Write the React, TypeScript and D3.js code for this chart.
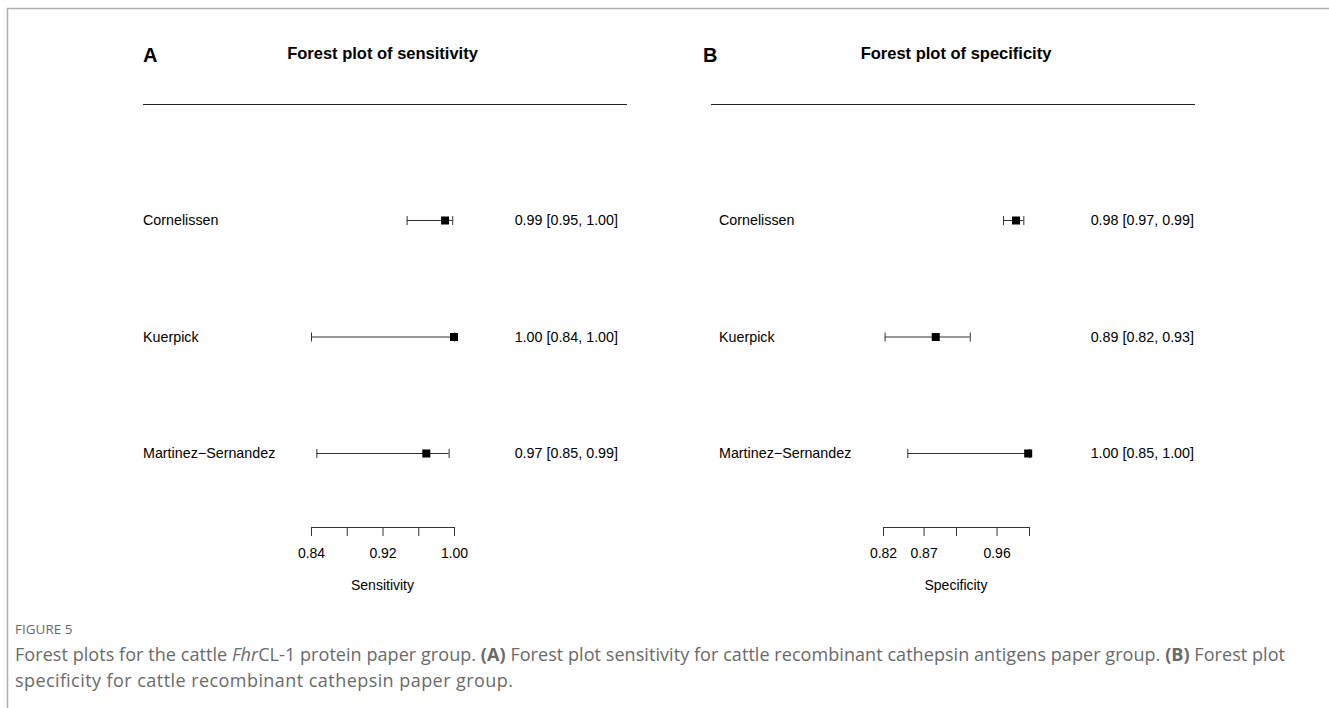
import React, { useEffect, useRef } from "react";
import * as d3 from "d3";

// studies (same for both panels)
const studies = ["Cornelissen", "Kuerpick", "Martinez\u2212Sernandez"];

// panel A – sensitivity
const sensEst = [0.99, 1.0, 0.969];
const sensLo = [0.947, 0.84, 0.846];
const sensHi = [0.998, 1.0, 0.994];
const sensText = ["0.99 [0.95, 1.00]", "1.00 [0.84, 1.00]", "0.97 [0.85, 0.99]"];
const sensTicks = [0.84, 0.88, 0.92, 0.96, 1.0];
const sensTickLabels = ["0.84", "", "0.92", "", "1.00"];

// panel B – specificity
const specEst = [0.984, 0.885, 0.999];
const specLo = [0.968, 0.822, 0.85];
const specHi = [0.993, 0.927, 1.0];
const specText = ["0.98 [0.97, 0.99]", "0.89 [0.82, 0.93]", "1.00 [0.85, 1.00]"];
const specTicks = [0.82, 0.87, 0.91, 0.96, 1.0];
const specTickLabels = ["0.82", "0.87", "", "0.96", ""];

const FONT = "'Liberation Sans', Arial, sans-serif";
const CAP_FONT = "'Open Sans', 'Noto Sans', sans-serif";

const panels = [
  {
    letter: "A",
    title: "Forest plot of sensitivity",
    xlab: "Sensitivity",
    est: sensEst, lo: sensLo, hi: sensHi, text: sensText,
    ticks: sensTicks, tickLabels: sensTickLabels,
    left: 143, labelX: 143, right: 627, axisRange: [311, 454], textRight: 618,
  },
  {
    letter: "B",
    title: "Forest plot of specificity",
    xlab: "Specificity",
    est: specEst, lo: specLo, hi: specHi, text: specText,
    ticks: specTicks, tickLabels: specTickLabels,
    left: 703, labelX: 719, right: 1195, lineLeft: 711, axisRange: [883, 1029], textRight: 1194,
  },
];

const App = () => {
  const svgRef = useRef(null);

  useEffect(() => {
    const svg = d3.select(svgRef.current);
    svg.selectAll("*").remove();

    // figure frame
    svg.append("line").attr("x1", 7).attr("x2", 1329).attr("y1", 8.5).attr("y2", 8.5)
      .attr("stroke", "#b0b0b0").attr("stroke-width", 1.5);
    svg.append("line").attr("x1", 7.5).attr("x2", 7.5).attr("y1", 8).attr("y2", 708)
      .attr("stroke", "#b0b0b0").attr("stroke-width", 1.5);

    const yScale = d3.scalePoint().domain(studies).range([220, 453]);

    panels.forEach((p) => {
      const x = d3.scaleLinear()
        .domain([p.ticks[0], p.ticks[p.ticks.length - 1]])
        .range(p.axisRange);
      const axisMid = (p.axisRange[0] + p.axisRange[1]) / 2;
      const g = svg.append("g").style("font-family", FONT);

      g.append("text").attr("x", p.left).attr("y", 62)
        .style("font-size", "20px").style("font-weight", "bold").text(p.letter);
      g.append("text").attr("x", axisMid).attr("y", 59).attr("text-anchor", "middle")
        .style("font-size", "16.5px").style("font-weight", "bold").text(p.title);

      g.append("line").attr("x1", p.lineLeft ?? p.left).attr("x2", p.right)
        .attr("y1", 104.5).attr("y2", 104.5)
        .attr("stroke", "#222").attr("stroke-width", 1);

      studies.forEach((s, i) => {
        const y = yScale(s);
        g.append("text").attr("x", p.labelX).attr("y", y + 5)
          .style("font-size", "14.3px").text(s);
        g.append("text").attr("x", p.textRight).attr("y", y + 5).attr("text-anchor", "end")
          .style("font-size", "14.3px").text(p.text[i]);

        g.append("line").attr("x1", x(p.lo[i])).attr("x2", x(p.hi[i]))
          .attr("y1", y + 0.5).attr("y2", y + 0.5).attr("stroke", "#333").attr("stroke-width", 1);
        [p.lo[i], p.hi[i]].forEach((v) => {
          g.append("line").attr("x1", x(v) + 0.5).attr("x2", x(v) + 0.5)
            .attr("y1", y - 4).attr("y2", y + 5).attr("stroke", "#333").attr("stroke-width", 1);
        });
        g.append("rect").attr("x", x(p.est[i]) - 4).attr("y", y - 3.5)
          .attr("width", 8).attr("height", 8).attr("fill", "#000");
      });

      const axis = d3.axisBottom(x)
        .tickValues(p.ticks)
        .tickSize(9)
        .tickSizeOuter(0)
        .tickPadding(12)
        .tickFormat((_, i) => p.tickLabels[i]);
      const ag = g.append("g").attr("transform", "translate(0,527)").call(axis);
      ag.select(".domain").attr("stroke", "#333");
      ag.selectAll(".tick line").attr("stroke", "#333");
      ag.selectAll("text").attr("fill", "#000").style("font-size", "14px").style("font-family", FONT);

      g.append("text").attr("x", axisMid).attr("y", 590).attr("text-anchor", "middle")
        .style("font-size", "14px").text(p.xlab);
    });

    // caption
    const cap = svg.append("g").style("font-family", CAP_FONT).attr("fill", "#6a6a6a");
    cap.append("text").attr("x", 15).attr("y", 634).style("font-size", "13.5px").text("FIGURE 5");
    const l1 = cap.append("text").attr("x", 15).attr("y", 661).style("font-size", "18px")
      .attr("textLength", 1270).attr("lengthAdjust", "spacing");
    l1.append("tspan").text("Forest plots for the cattle ");
    l1.append("tspan").style("font-style", "italic").text("Fhr");
    l1.append("tspan").text("CL-1 protein paper group. ");
    l1.append("tspan").style("font-weight", "bold").text("(A)");
    l1.append("tspan").text(" Forest plot sensitivity for cattle recombinant cathepsin antigens paper group. ");
    l1.append("tspan").style("font-weight", "bold").text("(B)");
    l1.append("tspan").text(" Forest plot");
    cap.append("text").attr("x", 15).attr("y", 687).style("font-size", "18px")
      .attr("textLength", 498).attr("lengthAdjust", "spacing")
      .text("specificity for cattle recombinant cathepsin paper group.");
  }, []);

  return (
    <svg
      ref={svgRef}
      width={1329}
      height={708}
      style={{ position: "absolute", left: 0, top: 0, background: "#fff" }}
    />
  );
};

export default App;
